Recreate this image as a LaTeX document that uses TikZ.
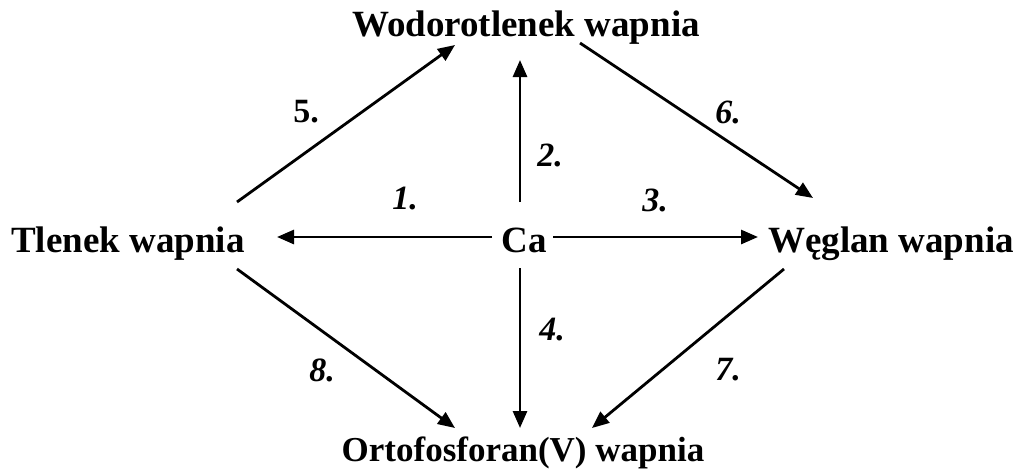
\documentclass[tikz,border=0pt]{standalone}
\usepackage{fontspec}
\setmainfont{Liberation Serif}
\usetikzlibrary{arrows.meta}
\tikzset{
  chem/.style={font=\fontsize{37}{40}\selectfont\bfseries, inner sep=0pt, anchor=base},
  num/.style={font=\fontsize{34}{36}\selectfont\bfseries\itshape, inner sep=0pt},
  numup/.style={font=\fontsize{34}{36}\selectfont\bfseries, inner sep=0pt},
  arr/.style={line width=2.8pt, -{Triangle[length=17pt,width=14pt]}}
}
\begin{document}
\begin{tikzpicture}[x=1pt,y=-1pt]
\useasboundingbox (0,0) rectangle (1019,474);
% nodes
\node[chem] (wod) at (526,36) {Wodorotlenek wapnia};
\node[chem] (tl) at (128,252) {Tlenek wapnia};
\node[chem] (ca) at (524,252) {Ca};
\node[chem] (weg) at (891,252) {Węglan wapnia};
\node[chem, font=\fontsize{35}{38}\selectfont\bfseries] (orto) at (523,461) {Ortofosforan(V) wapnia};
% arrow end points
\coordinate (s1) at (492,237); \coordinate (e1) at (277,237);
\coordinate (s2) at (520,202); \coordinate (e2) at (520,60);
\coordinate (s3) at (553,237); \coordinate (e3) at (758,237);
\coordinate (s4) at (520,268); \coordinate (e4) at (520,428);
\coordinate (s5) at (237,202); \coordinate (e5) at (455,45);
\coordinate (s6) at (580,43);  \coordinate (e6) at (813,198);
\coordinate (s7) at (784,269); \coordinate (e7) at (592,428);
\coordinate (s8) at (237,269); \coordinate (e8) at (455,428);
% arrows
\draw[arr] (s1) -- (e1);
\draw[arr] (s2) -- (e2);
\draw[arr] (s3) -- (e3);
\draw[arr] (s4) -- (e4);
\draw[arr] (s5) -- (e5);
\draw[arr] (s6) -- (e6);
\draw[arr] (s7) -- (e7);
\draw[arr] (s8) -- (e8);
% labels
\node[num] (n1) at (405,199) {1.};
\node[num] (n2) at (550,155) {2.};
\node[num] (n3) at (655,200) {3.};
\node[num] (n4) at (552,330) {4.};
\node[numup] (n5) at (306,112) {5.};
\node[num] (n6) at (728,112) {6.};
\node[num] (n7) at (728,370) {7.};
\node[num] (n8) at (322,370) {8.};
\end{tikzpicture}
\end{document}
